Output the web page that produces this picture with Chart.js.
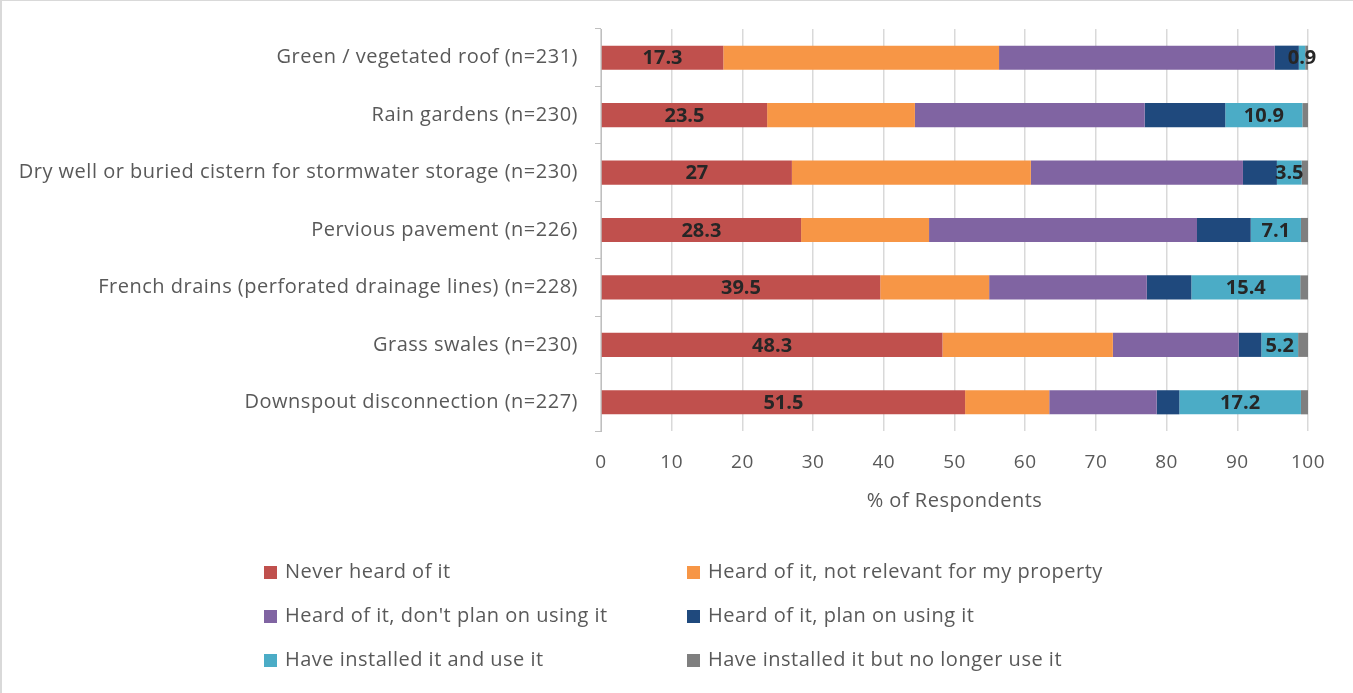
<!DOCTYPE html>
<html>
<head>
<meta charset="utf-8">
<script src="https://cdn.jsdelivr.net/npm/chart.js@4/dist/chart.umd.min.js"></script>
<style>
  html, body { margin: 0; padding: 0; background: #fff; }
  #wrap { position: relative; width: 1353px; height: 693px; overflow: hidden; }
  #frame { position: absolute; left: 0; top: 0; width: 1351px; height: 692px; border-top: 1px solid #d9d9d9; border-left: 2px solid #d9d9d9; pointer-events: none; }
  canvas { position: absolute; left: 0; top: 0; }
  #legend { position: absolute; left: 264px; top: 556px; width: 900px; font-family: "Open Sans", sans-serif; font-size: 20px; letter-spacing: 0.5px; color: #595959; }
  .item { position: absolute; white-space: nowrap; height: 30px; line-height: 30px; }
  .box { display: inline-block; width: 13px; height: 13px; margin-right: 8px; vertical-align: -1px; }
</style>
</head>
<body>
<div id="wrap">
  <canvas id="c" width="1353" height="693"></canvas>
  <div id="legend"></div>
  <div id="frame"></div>
</div>
<script>
const categories = [
  "Green / vegetated roof (n=231)",
  "Rain gardens (n=230)",
  "Dry well or buried cistern for stormwater storage (n=230)",
  "Pervious pavement (n=226)",
  "French drains (perforated drainage lines) (n=228)",
  "Grass swales (n=230)",
  "Downspout disconnection (n=227)"
];
const seriesNames = [
  "Never heard of it",
  "Heard of it, not relevant for my property",
  "Heard of it, don't plan on using it",
  "Heard of it, plan on using it",
  "Have installed it and use it",
  "Have installed it but no longer use it"
];
const neverHeard      = [17.3, 23.5, 27.0, 28.3, 39.5, 48.3, 51.5];
const notRelevant     = [39.0, 20.9, 33.8, 18.1, 15.4, 24.1, 11.9];
const dontPlan        = [39.0, 32.5, 30.0, 37.9, 22.3, 17.8, 15.2];
const planUsing       = [3.4, 11.4, 4.8, 7.6, 6.3, 3.2, 3.2];
const installedUse    = [0.9, 10.9, 3.5, 7.1, 15.4, 5.2, 17.2];
const installedNoLonger = [0.4, 0.8, 0.9, 1.0, 1.1, 1.4, 1.0];
const xTicks = [0, 10, 20, 30, 40, 50, 60, 70, 80, 90, 100];

const colors = ["#C0504D", "#F79646", "#8064A2", "#1F497D", "#4BACC6", "#7F7F7F"];
const seriesData = [neverHeard, notRelevant, dontPlan, planUsing, installedUse, installedNoLonger];
const labelled = [true, false, false, false, true, false];

const FONT = "'Open Sans', sans-serif";

const spacingPlugin = {
  id: 'spacing',
  beforeLayout(chart) { chart.ctx.letterSpacing = '0.5px'; },
  beforeDraw(chart) { chart.ctx.letterSpacing = '0.5px'; }
};

const dataLabelPlugin = {
  id: 'segLabels',
  afterDatasetsDraw(chart) {
    const ctx = chart.ctx;
    ctx.save();
    ctx.letterSpacing = '0px';
    ctx.font = "bold 20px " + FONT;
    ctx.fillStyle = "#262626";
    ctx.textAlign = "center";
    ctx.textBaseline = "middle";
    chart.data.datasets.forEach((ds, di) => {
      if (!ds.showLabels) return;
      const meta = chart.getDatasetMeta(di);
      meta.data.forEach((el, i) => {
        const v = ds.data[i];
        const cx = (el.x + el.base) / 2;
        ctx.fillText(String(v), cx, el.y + 1);
      });
    });
    ctx.restore();
  }
};

const chart = new Chart(document.getElementById('c'), {
  type: 'bar',
  data: {
    labels: categories,
    datasets: seriesNames.map((name, i) => ({
      label: name,
      data: seriesData[i],
      backgroundColor: colors[i],
      borderWidth: 0,
      barPercentage: 0.42,
      categoryPercentage: 1,
      showLabels: labelled[i]
    }))
  },
  options: {
    indexAxis: 'y',
    responsive: false,
    animation: false,
    layout: { padding: { top: 29, right: 45, bottom: 180, left: 0 } },
    plugins: {
      legend: { display: false },
      tooltip: { enabled: false }
    },
    scales: {
      x: {
        stacked: true,
        min: 0, max: 100,
        afterBuildTicks(s) { s.ticks = xTicks.map(v => ({ value: v })); },
        ticks: { font: { family: FONT, size: 19 }, color: "#595959", padding: 20, maxRotation: 0 },
        grid: { color: "#d9d9d9", lineWidth: 1.5, drawTicks: false },
        border: { display: false },
        title: { display: true, text: "% of Respondents", font: { family: FONT, size: 20 }, color: "#595959", padding: 0 },
        afterFit(s) { s.height = 82; }
      },
      y: {
        stacked: true,
        grid: { drawOnChartArea: false, drawTicks: true, tickLength: 6, color: "#bfbfbf", lineWidth: 1 },
        border: { display: true, color: "#bfbfbf", width: 1 },
        ticks: { font: { family: FONT, size: 20 }, color: "#595959", padding: 17 },
        afterFit(s) { s.width = 601; }
      }
    }
  },
  plugins: [spacingPlugin, dataLabelPlugin]
});

// HTML legend built from the chart's datasets (two columns, row-major)
const legend = document.getElementById('legend');
chart.data.datasets.forEach((ds, i) => {
  const col = i % 2, row = Math.floor(i / 2);
  const item = document.createElement('div');
  item.className = 'item';
  item.style.left = (col * 423) + 'px';
  item.style.top = (row * 44) + 'px';
  const box = document.createElement('span');
  box.className = 'box';
  box.style.background = ds.backgroundColor;
  item.appendChild(box);
  item.appendChild(document.createTextNode(ds.label));
  legend.appendChild(item);
});
</script>
</body>
</html>
